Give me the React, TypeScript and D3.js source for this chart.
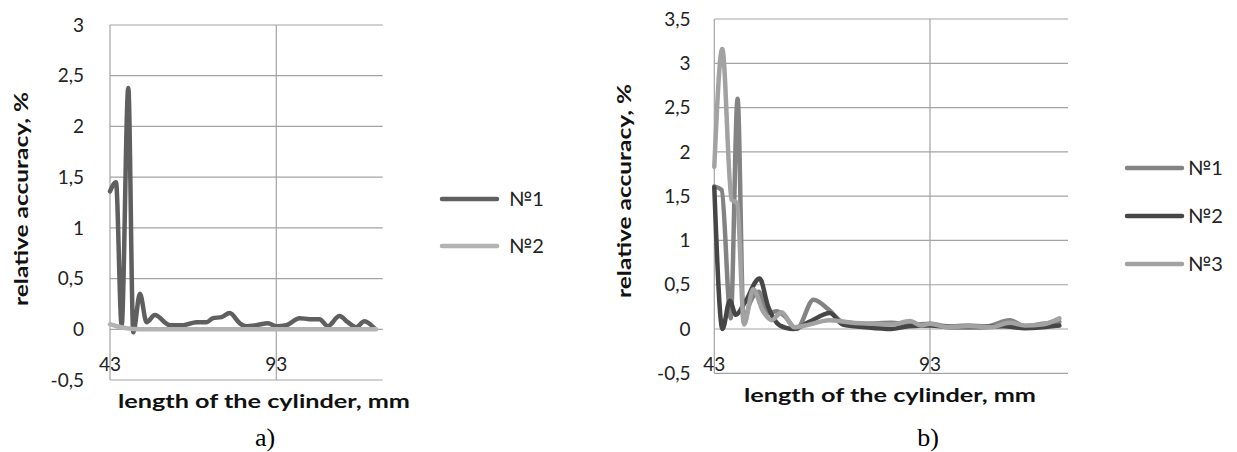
import React from "react";
import * as d3 from "d3";

// x categories (length of the cylinder, mm)
const xDomain = [43, 125];
const xTickLabels = [43, 93];

// chart a)
const yTicksA = [-0.5, 0, 0.5, 1, 1.5, 2, 2.5, 3];
const a1Pos = [43, 44.8, 46.5, 48.5, 50, 52, 54, 56.5, 61, 65, 69, 72, 74, 76.5, 79, 82, 84, 87, 90.5, 93, 96, 100, 103, 106, 108.5, 112, 114.5, 117, 119.5, 122.5];
const a1Val = [1.36, 1.45, 0.04, 2.38, -0.03, 0.35, 0.07, 0.14, 0.04, 0.04, 0.07, 0.07, 0.11, 0.12, 0.16, 0.06, 0.03, 0.04, 0.06, 0.03, 0.04, 0.11, 0.1, 0.1, 0.03, 0.13, 0.07, 0.02, 0.08, 0.01];
const a2Pos = [43, 45, 48, 52, 60, 75, 90, 105, 123];
const a2Val = [0.05, 0.03, 0.01, 0.0, 0.0, 0.0, 0.0, 0.0, 0.0];

// chart b)
const yTicksB = [-0.5, 0, 0.5, 1, 1.5, 2, 2.5, 3, 3.5];
const b1Pos = [43, 44.7, 46.8, 48.4, 49.8, 51.3, 53.3, 55.5, 57.5, 59.2, 62.1, 66, 69.5, 72.8, 78, 84, 88.5, 93, 97, 102, 106, 111.5, 115, 119, 123];
const b1Val = [1.61, 1.57, 0.12, 2.6, 0.08, 0.3, 0.42, 0.18, 0.2, 0.15, 0.0, 0.33, 0.22, 0.08, 0.06, 0.07, 0.05, 0.06, 0.03, 0.04, 0.03, 0.1, 0.03, 0.06, 0.08];
const b2Pos = [43, 44.9, 46.6, 48, 50.1, 53.5, 55.5, 58.2, 61.3, 65, 69.8, 72.8, 78, 84, 88, 93, 98, 104, 110, 115, 119, 123];
const b2Val = [1.6, 0.0, 0.32, 0.16, 0.3, 0.57, 0.25, 0.04, 0.0, 0.08, 0.18, 0.05, 0.02, 0.0, 0.03, 0.04, 0.02, 0.02, 0.03, 0.01, 0.02, 0.04];
const b3Pos = [43, 44.85, 47, 48.3, 49.9, 52, 54.3, 56.3, 58.6, 61.5, 65, 69.6, 75, 80, 84, 88.4, 91, 93, 97, 102, 107, 111.5, 115, 119, 123];
const b3Val = [1.83, 3.16, 1.46, 1.42, 0.05, 0.45, 0.2, 0.1, 0.19, 0.02, 0.05, 0.1, 0.07, 0.06, 0.05, 0.09, 0.04, 0.06, 0.02, 0.03, 0.02, 0.07, 0.04, 0.05, 0.12];

const locale = d3.formatLocale({ decimal: ",", thousands: " ", grouping: [3], currency: ["", ""], minus: "-" });
const fmt = locale.format("~g");

const sansFont = "Lato, 'Open Sans', sans-serif";
const grid = "#a3a3a3";

const Chart = ({ left, right, top, bottom, yTicks, series, yTitleX, yTitleY, xTitleX, xTitleY, labelRight, legendX, legendY, legendGap, caption, captionX }) => {
  const xScale = d3.scaleLinear().domain(xDomain).range([left, right]);
  const yScale = d3.scaleLinear().domain([yTicks[0], yTicks[yTicks.length - 1]]).range([bottom, top]);
  const line = d3
    .line()
    .x((d) => xScale(d[0]))
    .y((d) => yScale(d[1]))
    .curve(d3.curveMonotoneX);

  return (
    <g>
      {yTicks.map((t) => (
        <g key={t}>
          <line x1={left} x2={right} y1={yScale(t)} y2={yScale(t)} stroke={grid} strokeWidth={1.2} />
          <text x={labelRight} y={yScale(t)} dy="0.35em" textAnchor="end" fontSize={19} fill="#222" fontFamily={sansFont}>
            {fmt(t)}
          </text>
        </g>
      ))}
      {xTickLabels.map((t) => (
        <g key={t}>
          <line x1={xScale(t)} x2={xScale(t)} y1={top} y2={bottom} stroke={grid} strokeWidth={1.2} />
          <text x={xScale(t)} y={364} dy="0.35em" textAnchor="middle" fontSize={19} fill="#222" fontFamily={sansFont}>
            {t}
          </text>
        </g>
      ))}
      {series.map((s) => (
        <path
          key={s.name}
          d={line(s.pos.map((p, i) => [p, s.val[i]]))}
          fill="none"
          stroke={s.color}
          strokeWidth={4.5}
          strokeLinejoin="round"
          strokeLinecap="round"
        />
      ))}
      <text
        transform={`translate(${yTitleX},${yTitleY}) rotate(-90)`}
        textAnchor="middle"
        fontSize={19}
        fontWeight="bold"
        fill="#111"
        fontFamily={sansFont}
        textLength={214}
        lengthAdjust="spacingAndGlyphs"
      >
        relative accuracy, %
      </text>
      <text
        x={xTitleX}
        y={xTitleY}
        textAnchor="middle"
        fontSize={19}
        fontWeight="bold"
        fill="#111"
        fontFamily={sansFont}
        textLength={292}
        lengthAdjust="spacingAndGlyphs"
      >
        length of the cylinder, mm
      </text>
      {series.map((s, i) => (
        <g key={s.name} transform={`translate(${legendX},${legendY + i * legendGap})`}>
          <line x1={0} x2={55} y1={0} y2={0} stroke={s.color} strokeWidth={4.5} strokeLinecap="round" />
          <text x={s.textDx} y={0} dy="0.35em" fontSize={20} fill="#222" fontFamily={sansFont}>
            {s.name}
          </text>
        </g>
      ))}
      <text x={captionX} y={446} textAnchor="middle" fontSize={26} fill="#000" fontFamily="'Liberation Serif', 'Times New Roman', serif">
        {caption}
      </text>
    </g>
  );
};

export default function App() {
  const seriesA = [
    { name: "№1", pos: a1Pos, val: a1Val, color: "#5f5f5f", textDx: 67 },
    { name: "№2", pos: a2Pos, val: a2Val, color: "#b3b3b3", textDx: 67 },
  ];
  const seriesB = [
    { name: "№1", pos: b1Pos, val: b1Val, color: "#838383", textDx: 61 },
    { name: "№2", pos: b2Pos, val: b2Val, color: "#464646", textDx: 61 },
    { name: "№3", pos: b3Pos, val: b3Val, color: "#a2a2a2", textDx: 61 },
  ];
  return (
    <svg width={1237} height={452} style={{ position: "absolute", left: 0, top: 0, background: "#fff" }}>
      <rect width={1237} height={452} fill="#fff" />
      <Chart
        left={110}
        right={382.7}
        top={25}
        bottom={380}
        yTicks={yTicksA}
        series={seriesA}
        yTitleX={28}
        yTitleY={199}
        xTitleX={264}
        xTitleY={408}
        labelRight={84}
        legendX={442}
        legendY={199}
        legendGap={47}
        caption="a)"
        captionX={265}
      />
      <Chart
        left={714.3}
        right={1068}
        top={19}
        bottom={373.3}
        yTicks={yTicksB}
        series={seriesB}
        yTitleX={631}
        yTitleY={191}
        xTitleX={890}
        xTitleY={402}
        labelRight={690.5}
        legendX={1127}
        legendY={168}
        legendGap={48}
        caption="b)"
        captionX={928}
      />
    </svg>
  );
}
